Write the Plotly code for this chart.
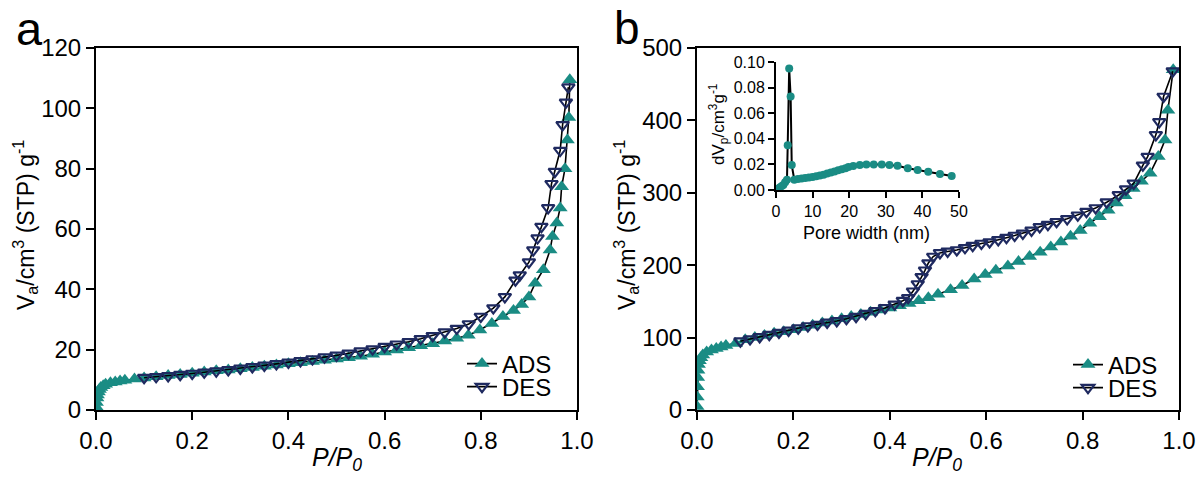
import plotly.graph_objects as go

# ---------------- data ----------------
# Panel a: N2 isotherm
a_ads_x = [0.0005, 0.001, 0.002, 0.003, 0.005, 0.007, 0.01, 0.015, 0.02, 0.03, 0.04, 0.05, 0.06, 0.08,
           0.10, 0.125, 0.15, 0.175, 0.20, 0.225, 0.25, 0.275, 0.30, 0.325, 0.35, 0.375, 0.40, 0.425,
           0.45, 0.475, 0.50, 0.525, 0.55, 0.575, 0.60, 0.625, 0.65, 0.675, 0.70, 0.725, 0.75, 0.774,
           0.798, 0.823, 0.846, 0.868, 0.885, 0.90, 0.913, 0.93, 0.944, 0.949, 0.958, 0.965, 0.968,
           0.975, 0.98, 0.983, 0.985]
a_ads_y = [1.0, 2.5, 4.0, 5.0, 6.0, 6.8, 7.5, 8.0, 8.5, 9.0, 9.3, 9.6, 9.9, 10.3,
           10.6, 11.0, 11.4, 11.8, 12.2, 12.6, 13.0, 13.3, 13.7, 14.1, 14.5, 14.9, 15.3, 15.7,
           16.1, 16.5, 16.9, 17.3, 17.8, 18.5, 19.2, 19.9, 20.6, 21.3, 22.0, 22.9, 23.8, 24.8,
           26.5, 28.7, 31.0, 33.0, 35.0, 37.5, 42.0, 46.5, 53.0, 57.5, 62.0, 67.0, 74.0,
           80.0, 89.5, 97.0, 109.5]
a_des_x = [0.982, 0.977, 0.97, 0.965, 0.954, 0.947, 0.94, 0.926, 0.918, 0.909, 0.90, 0.881, 0.872,
           0.85, 0.826, 0.80, 0.775, 0.75, 0.725, 0.70, 0.675, 0.65, 0.625, 0.60, 0.575, 0.55, 0.525,
           0.50, 0.475, 0.45, 0.425, 0.40, 0.375, 0.35, 0.325, 0.30, 0.275, 0.25, 0.225, 0.20, 0.175,
           0.15, 0.125, 0.10]
a_des_y = [107.0, 102.0, 94.5, 86.0, 79.0, 75.0, 67.0, 60.8, 57.0, 53.0, 49.0, 44.7, 43.0,
           37.5, 33.8, 31.0, 28.5, 27.0, 25.8, 24.6, 23.6, 22.6, 21.8, 21.0, 20.2, 19.5, 18.8,
           18.1, 17.5, 16.9, 16.3, 15.8, 15.3, 14.8, 14.3, 13.8, 13.3, 12.9, 12.5, 12.1, 11.7,
           11.3, 11.0, 10.7]

# Panel b: N2 isotherm
b_ads_x = [0.0002, 0.0005, 0.001, 0.0015, 0.002, 0.003, 0.005, 0.008, 0.012, 0.02, 0.03, 0.04,
           0.05, 0.06, 0.08, 0.10, 0.12, 0.14, 0.16, 0.18, 0.20, 0.22, 0.24, 0.26, 0.28, 0.30,
           0.32, 0.34, 0.36, 0.38, 0.40, 0.42, 0.44, 0.46, 0.48, 0.50, 0.526, 0.55, 0.575, 0.598,
           0.62, 0.645, 0.667, 0.69, 0.712, 0.734, 0.755, 0.775, 0.795, 0.815, 0.835, 0.853, 0.87,
           0.888, 0.905, 0.922, 0.94, 0.957, 0.971, 0.977, 0.988]
b_ads_y = [5, 18, 32, 45, 55, 63, 68, 72, 76, 80, 83, 85,
           87, 89, 92, 97, 100, 103, 106, 108, 111, 114, 117, 120, 123, 126,
           129, 132, 135, 138, 141, 144, 147, 151, 155, 160, 166, 172, 181, 187,
           193, 199, 205, 212, 218, 225, 232, 240, 248, 258, 267, 276, 286,
           296, 306, 316, 327, 350, 373, 414, 470]
b_des_x = [0.987, 0.968, 0.959, 0.952, 0.935, 0.925, 0.906, 0.89, 0.875, 0.85, 0.827, 0.808,
           0.79, 0.768, 0.746, 0.728, 0.711, 0.694, 0.676, 0.659, 0.642, 0.625, 0.607, 0.59,
           0.572, 0.556, 0.539, 0.52, 0.504, 0.49, 0.48, 0.473, 0.466, 0.458, 0.448, 0.438,
           0.427, 0.41, 0.39, 0.37, 0.35, 0.33, 0.31, 0.29, 0.27, 0.25, 0.23, 0.21, 0.19, 0.17,
           0.15, 0.13, 0.11, 0.09]
b_des_y = [468, 433, 398, 380, 350, 338, 313, 305, 297, 287, 279, 274,
           269, 264, 260, 256, 253, 248, 244, 241, 238, 235, 232, 230,
           227, 224, 221, 219, 217, 212, 203, 193, 184, 174, 164, 155,
           151, 146, 141, 137, 133, 129, 126, 123, 121, 118, 116, 113, 110, 107,
           104, 101, 98, 95]

# Inset: pore size distribution
psd_x = [0.5, 1.0, 1.5, 2.0, 2.5, 3.0, 3.2, 3.6, 4.0, 4.3, 5.0, 6.0, 7.0, 8.0, 9.0, 10.0,
         11.0, 12.0, 13.0, 14.0, 15.0, 16.0, 17.0, 18.0, 19.0, 19.8, 21.1, 22.9, 24.7, 26.7,
         28.9, 31.0, 33.2, 36.0, 38.7, 41.6, 44.8, 48.0]
psd_y = [0.001, 0.002, 0.003, 0.004, 0.006, 0.008, 0.035, 0.095, 0.073, 0.0195, 0.008, 0.0085,
         0.009, 0.0093, 0.0097, 0.0102, 0.0107, 0.0113, 0.012, 0.0128, 0.0136, 0.0145, 0.0155,
         0.0163, 0.017, 0.018, 0.0188, 0.0195, 0.020, 0.020, 0.020, 0.0195, 0.019, 0.017, 0.0156,
         0.0143, 0.0125, 0.011]

x_ticks = [0.0, 0.2, 0.4, 0.6, 0.8, 1.0]
a_y_ticks = [0, 20, 40, 60, 80, 100, 120]
b_y_ticks = [0, 100, 200, 300, 400, 500]
inset_x_ticks = [0, 10, 20, 30, 40, 50]
inset_y_ticks = [0.00, 0.02, 0.04, 0.06, 0.08, 0.10]

# ---------------- style ----------------
W, H = 1198, 481
FONT = "Arial, 'Liberation Sans', sans-serif"
TEAL = "#1a8c84"
NAVY = "#1f2a60"


def px(x):
    return x / W


def py(y):
    return 1 - y / H


fig = go.Figure()

common_line = dict(color="black", width=1.6)
ads_marker = dict(symbol="triangle-up", size=13, color=TEAL, line=dict(width=0))
des_marker = dict(symbol="triangle-down-open", size=11, color=NAVY, line=dict(width=2.2, color=NAVY))

fig.add_trace(go.Scatter(x=a_ads_x, y=a_ads_y, mode="lines+markers", name="ADS",
                         line=common_line, xaxis="x", yaxis="y", legend="legend",
                         marker=ads_marker))
fig.add_trace(go.Scatter(x=a_des_x, y=a_des_y, mode="lines+markers", name="DES",
                         line=common_line, xaxis="x", yaxis="y", legend="legend2",
                         marker=des_marker))
fig.add_trace(go.Scatter(x=b_ads_x, y=b_ads_y, mode="lines+markers", name="ADS",
                         line=common_line, xaxis="x2", yaxis="y2", legend="legend3",
                         marker=ads_marker))
fig.add_trace(go.Scatter(x=b_des_x, y=b_des_y, mode="lines+markers", name="DES",
                         line=common_line, xaxis="x2", yaxis="y2", legend="legend4",
                         marker=des_marker))
fig.add_trace(go.Scatter(x=psd_x, y=psd_y, mode="lines+markers", showlegend=False,
                         line=dict(color="black", width=2), xaxis="x3", yaxis="y3",
                         marker=dict(symbol="circle", size=8, color=TEAL, line=dict(width=0))))

axis_common = dict(showgrid=False, zeroline=False, showline=True, linecolor="black",
                   linewidth=2, ticks="outside", ticklen=8, tickwidth=2, tickcolor="black",
                   tickfont=dict(family=FONT, size=24, color="black"), mirror=True,
                   automargin=False)
inset_axis = dict(showgrid=False, zeroline=False, showline=True, linecolor="black", linewidth=2,
                  ticks="outside", ticklen=6, tickwidth=2, tickcolor="black", automargin=False,
                  tickfont=dict(family=FONT, size=16, color="black"))


def leg(xl, yc):
    return dict(x=px(xl), y=py(yc), xanchor="left", yanchor="middle",
                bgcolor="rgba(0,0,0,0)", borderwidth=0,
                font=dict(family=FONT, size=24, color="black"), itemwidth=30)


ya_dom = [py(410), py(48)]
fig.update_layout(
    template="none",
    width=W, height=H,
    margin=dict(l=0, r=0, t=0, b=0, autoexpand=False),
    paper_bgcolor="white", plot_bgcolor="white",
    font=dict(family=FONT, color="black"),
    xaxis=dict(axis_common, domain=[px(96), px(577)], range=[0, 1.0], tickvals=x_ticks,
               tickformat=".1f", anchor="y"),
    yaxis=dict(axis_common, domain=ya_dom, range=[0, 120], tickvals=a_y_ticks, anchor="x"),
    xaxis2=dict(axis_common, domain=[px(697), px(1179)], range=[0, 1.0], tickvals=x_ticks,
                tickformat=".1f", anchor="y2"),
    yaxis2=dict(axis_common, domain=ya_dom, range=[0, 500], tickvals=b_y_ticks, anchor="x2"),
    xaxis3=dict(inset_axis, domain=[px(776), px(959)], range=[0, 50], tickvals=inset_x_ticks,
                anchor="y3"),
    yaxis3=dict(inset_axis, domain=[py(190), py(62)], range=[0, 0.10], tickvals=inset_y_ticks,
                tickformat=".2f", anchor="x3"),
    legend=leg(462, 364),
    legend2=leg(462, 387),
    legend3=leg(1068, 365),
    legend4=leg(1068, 388),
)

ytitle = "V<sub>a</sub>/cm<sup>3</sup> (STP) g<sup>-1</sup>"
xtitle = "<i>P/P<sub>0</sub></i>"
ann = [
    dict(text="a", x=px(29), y=py(28), font=dict(size=47)),
    dict(text="b", x=px(627), y=py(28), font=dict(size=46)),
    dict(text=ytitle, x=px(25), y=py(225), textangle=-90, font=dict(size=23)),
    dict(text=ytitle, x=px(626), y=py(225), textangle=-90, font=dict(size=23)),
    dict(text=xtitle, x=px(337), y=py(459), font=dict(size=25)),
    dict(text=xtitle, x=px(937), y=py(459), font=dict(size=25)),
    dict(text="Pore width (nm)", x=px(866), y=py(233), font=dict(size=18)),
    dict(text="dV<sub>p</sub>/cm<sup>3</sup>g<sup>-1</sup>", x=px(718), y=py(124),
         textangle=-90, font=dict(size=17)),
]
for a in ann:
    a.update(xref="paper", yref="paper", showarrow=False, xanchor="center", yanchor="middle")
    a["font"] = dict(family=FONT, color="black", **a["font"])
fig.update_layout(annotations=ann)

fig.write_html("out.html")
